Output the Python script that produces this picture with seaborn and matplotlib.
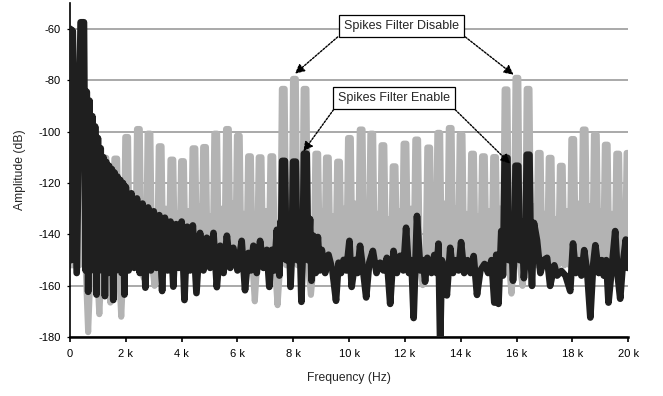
import matplotlib
matplotlib.use("Agg")
import matplotlib.pyplot as plt
import pandas as pd
import seaborn as sns

# ---------------- data (frequency in kHz, amplitude in dB) ----------------
# "Spikes Filter Disable" (gray): tone peaks and the level between tones
gray_peak_khz = [0.45, 0.85, 1.25, 1.64, 2.03, 2.45, 2.83, 3.23, 3.65, 4.03,
                 4.44, 4.82, 5.22, 5.64, 6.03, 6.43, 6.81, 7.23, 7.64, 8.04,
                 8.42, 8.84, 9.22, 9.62, 10.01, 10.43, 10.81, 11.21, 11.61, 12.00,
                 12.42, 12.85, 13.21, 13.62, 14.01, 14.42, 14.81, 15.21, 15.62, 16.01,
                 16.41, 16.81, 17.20, 17.60, 18.01, 18.42, 18.82, 19.21, 19.62, 19.99]
gray_peak_db = [-100.0, -104.0, -110.2, -110.5, -102.1, -99.0, -100.8, -105.7, -110.9, -111.5,
                -106.5, -106.0, -100.8, -99.0, -101.6, -109.6, -110.0, -109.6, -83.4, -79.5,
                -83.4, -108.6, -110.1, -111.7, -102.5, -99.2, -100.8, -105.3, -113.5, -104.7,
                -103.1, -106.2, -100.5, -98.6, -101.2, -108.6, -109.6, -109.9, -83.6, -79.1,
                -83.4, -108.3, -110.2, -113.3, -102.9, -99.2, -101.2, -105.1, -108.6, -108.3]
gray_gap_db = [-178.0, -171.0, -166.5, -172.0, -131.0, -157.0, -160.0, -130.0, -132.0, -131.0,
               -129.0, -133.0, -130.0, -128.0, -132.0, -166.0, -131.0, -167.5, -128.0, -129.0,
               -163.5, -131.0, -133.0, -130.0, -128.0, -129.0, -132.0, -134.0, -131.0, -130.0,
               -159.7, -130.0, -128.0, -130.0, -132.0, -133.0, -131.0, -130.0, -163.0, -160.0,
               -129.0, -132.0, -134.0, -131.0, -128.0, -129.0, -131.0, -132.0, -130.0]
gray_floor_db = -152.0

# "Spikes Filter Enable" (black): residual spikes
black_spike_khz = [7.65, 8.04, 8.43, 15.62, 16.01, 16.41]
black_spike_db = [-111.4, -111.7, -108.6, -110.2, -113.3, -109.0]
black_spike_floor_db = -150.0

# "Spikes Filter Enable" (black): noise floor trace (alternating highs / lows)
black_khz = [0.00, 0.04, 0.07, 0.10, 0.24, 0.38, 0.50, 0.56,
             0.60, 0.65, 0.70, 0.75, 0.80, 0.85, 0.90, 0.95, 1.00, 1.05, 1.10, 1.15,
             1.20, 1.25, 1.30, 1.35, 1.40, 1.45, 1.50, 1.55, 1.60, 1.65, 1.70, 1.75,
             1.80, 1.85, 1.90, 1.95, 2.00, 2.10, 2.20, 2.30, 2.40, 2.50, 2.60, 2.70,
             2.80, 2.90, 3.00, 3.10, 3.20, 3.30, 3.40, 3.50, 3.60, 3.70, 3.80, 3.90,
             4.00, 4.10, 4.20, 4.30, 4.40, 4.53, 4.66, 4.78, 4.90, 5.02, 5.14, 5.26,
             5.38, 5.50, 5.62, 5.74, 5.85, 6.00, 6.15, 6.27, 6.39, 6.48, 6.57, 6.69,
             6.81, 6.93, 7.05, 7.14, 7.23, 7.32, 7.41, 7.50, 7.54,
             7.83, 7.90, 8.21, 8.29,
             8.60, 8.65, 8.72, 8.80, 8.88, 8.95, 9.02, 9.14, 9.26, 9.40, 9.53, 9.62,
             9.71, 9.80, 9.90, 10.01, 10.09, 10.22, 10.30, 10.39, 10.50, 10.61, 10.72, 10.85,
             10.98, 11.11, 11.23, 11.35, 11.47, 11.59, 11.71, 11.83, 11.94, 12.04, 12.14, 12.23,
             12.31, 12.43, 12.55, 12.65, 12.72, 12.80, 12.95, 13.05, 13.13, 13.20, 13.26, 13.32,
             13.42, 13.50, 13.62, 13.72, 13.82, 13.92, 14.01, 14.12, 14.24, 14.35, 14.46, 14.58,
             14.70, 14.85, 14.98, 15.10, 15.20, 15.27, 15.35, 15.45, 15.51,
             15.80, 15.87, 16.19, 16.26,
             16.55, 16.62, 16.73, 16.85, 16.97, 17.09, 17.20, 17.35, 17.45, 17.60, 17.75, 17.92,
             18.02, 18.12, 18.22, 18.32, 18.42, 18.53, 18.64, 18.74, 18.82, 18.94, 19.05, 19.12,
             19.21, 19.29, 19.40, 19.53, 19.62, 19.71, 19.80, 19.91, 19.97, 20.05]
black_db = [-60.0, -150.0, -60.5, -61.0, -155.0, -57.5, -57.5, -154.0,
            -84.5, -162.3, -88.0, -154.0, -94.0, -153.0, -98.0, -163.4, -102.5, -154.0, -106.5, -153.0,
            -110.0, -164.0, -111.8, -155.0, -113.3, -153.0, -114.6, -165.5, -116.0, -154.0, -117.5, -153.0,
            -118.8, -155.0, -120.0, -163.4, -121.5, -154.0, -124.0, -153.0, -126.0, -155.0, -128.0, -160.7,
            -129.5, -154.0, -131.0, -153.0, -132.5, -162.0, -133.5, -154.0, -135.0, -160.3, -136.0, -153.0,
            -135.0, -165.5, -137.0, -154.0, -136.5, -162.8, -139.4, -154.0, -141.3, -153.0, -139.4, -160.5,
            -144.4, -155.0, -140.5, -153.0, -145.2, -154.0, -142.5, -161.7, -147.2, -154.0, -144.4, -155.0,
            -142.5, -153.0, -146.0, -160.4, -146.0, -154.0, -138.2, -156.0, -135.0,
            -133.0, -160.4, -133.0, -166.2,
            -134.0, -158.0, -140.5, -155.0, -141.0, -154.0, -146.0, -155.0, -147.9, -154.0, -165.8, -151.0,
            -155.0, -149.9, -154.0, -142.5, -160.4, -149.9, -155.0, -144.4, -154.0, -164.5, -151.0, -146.4,
            -155.0, -151.0, -154.0, -149.1, -167.0, -146.4, -155.0, -148.3, -154.0, -137.4, -155.0, -150.0,
            -172.5, -132.8, -154.0, -150.0, -158.4, -149.1, -155.0, -148.0, -155.0, -143.6, -183.0, -150.0,
            -154.0, -163.7, -145.2, -155.0, -150.0, -154.0, -143.0, -155.0, -150.0, -155.0, -148.4, -163.5,
            -154.0, -151.5, -155.0, -150.0, -166.5, -147.9, -167.0, -138.7, -156.0,
            -136.0, -158.0, -135.0, -157.0,
            -160.0, -135.5, -142.3, -155.0, -150.0, -149.1, -160.0, -152.0, -156.0, -154.2, -156.0, -162.0,
            -143.5, -155.0, -150.0, -156.0, -146.1, -155.0, -172.3, -152.0, -144.2, -155.0, -150.0, -156.0,
            -150.0, -166.5, -154.0, -138.7, -156.0, -165.0, -152.0, -142.0, -153.0, -146.0]

x_ticks = [0, 2, 4, 6, 8, 10, 12, 14, 16, 18, 20]
x_tick_labels = ["0", "2 k", "4 k", "6 k", "8 k", "10 k", "12 k", "14 k", "16 k", "18 k", "20 k"]
y_ticks = [-180, -160, -140, -120, -100, -80, -60]
y_tick_labels = ["-180", "-160", "-140", "-120", "-100", "-80", "-60"]


# ---------------- build traces ----------------
def tone_columns(peaks_f, peaks_db, floor_db, gaps_db=None, half_top=0.05, half_base=0.11):
    xs, ys = [], []
    for i, (f, d) in enumerate(zip(peaks_f, peaks_db)):
        xs += [f - half_base, f - half_top, f + half_top, f + half_base]
        ys += [floor_db, d, d, floor_db]
        if gaps_db is not None and i < len(gaps_db) and i + 1 < len(peaks_f):
            xs.append((f + peaks_f[i + 1]) / 2.0)
            ys.append(gaps_db[i])
    return xs, ys


gx, gy = tone_columns(gray_peak_khz, gray_peak_db, gray_floor_db, gray_gap_db)
gray_df = pd.DataFrame({"khz": [0.0] + gx + [20.1], "db": [gray_floor_db] + gy + [gray_floor_db]})

sx, sy = tone_columns(black_spike_khz, black_spike_db, black_spike_floor_db,
                      None, half_top=0.05, half_base=0.1)
black_df = (pd.DataFrame({"khz": black_khz + sx, "db": black_db + sy})
            .sort_values("khz", kind="mergesort").reset_index(drop=True))

# ---------------- plot ----------------
sns.set_style("white")
plt.rcParams["font.family"] = ["Liberation Sans", "DejaVu Sans"]
plt.rcParams["path.simplify"] = False

fig = plt.figure(figsize=(6.63, 3.96), dpi=100)
ax = fig.add_axes([70 / 663, (396 - 337.3) / 396, (628.3 - 70) / 663, (337.3 - 3) / 396])

sns.lineplot(data=gray_df, x="khz", y="db", ax=ax, estimator=None, sort=False,
             color="#b3b3b3", zorder=2)
sns.lineplot(data=black_df, x="khz", y="db", ax=ax, estimator=None, sort=False,
             color="#1f1f1f", zorder=3)

line_widths = [4.4, 4.8]
for line, w in zip(ax.get_lines(), line_widths):
    line.set_linewidth(w)
    line.set_solid_joinstyle("round")
    line.set_solid_capstyle("round")

ax.set_xlim(0, 20)
ax.set_ylim(-180, -50)
ax.set_xticks(x_ticks)
ax.set_xticklabels(x_tick_labels)
ax.set_yticks(y_ticks)
ax.set_yticklabels(y_tick_labels)

ax.yaxis.grid(True, color="#a3a3a3", lw=1.3)
ax.xaxis.grid(False)
ax.set_axisbelow(True)

for side in ["top", "right"]:
    ax.spines[side].set_visible(False)
ax.spines["left"].set_linewidth(1.2)
ax.spines["bottom"].set_linewidth(1.8)
ax.spines["left"].set_color("black")
ax.spines["bottom"].set_color("black")

ax.tick_params(axis="x", direction="out", length=3.6, width=1.2, pad=5, labelsize=8,
               colors="black", bottom=True)
ax.tick_params(axis="y", direction="out", length=2.4, width=0.9, pad=4, labelsize=8,
               colors="black", left=True)

ax.set_xlabel("Frequency (Hz)", fontsize=8.7, labelpad=9)
ax.set_ylabel("Amplitude (dB)", fontsize=8.7, labelpad=9)

# ---------------- annotations ----------------
box = dict(boxstyle="square,pad=0.42", fc="white", ec="black", lw=0.9)
arrow = dict(arrowstyle="-|>", color="black", lw=1.0, linestyle=(0, (1.4, 1.1)),
             mutation_scale=14, shrinkA=0, shrinkB=0)

ax.text(11.87, -58.9, "Spikes Filter Disable", ha="center", va="center", fontsize=9,
        bbox=box, zorder=6)
ax.annotate("", xy=(8.06, -77.5), xytext=(9.59, -63.2), arrowprops=arrow, zorder=5)
ax.annotate("", xy=(15.89, -77.9), xytext=(14.16, -63.2), arrowprops=arrow, zorder=5)

ax.text(11.61, -87.0, "Spikes Filter Enable", ha="center", va="center", fontsize=9,
        bbox=box, zorder=6)
ax.annotate("", xy=(8.36, -107.7), xytext=(9.44, -91.5), arrowprops=arrow, zorder=5)
ax.annotate("", xy=(15.77, -112.5), xytext=(13.80, -91.5), arrowprops=arrow, zorder=5)

fig.savefig("out.png", dpi=100)
